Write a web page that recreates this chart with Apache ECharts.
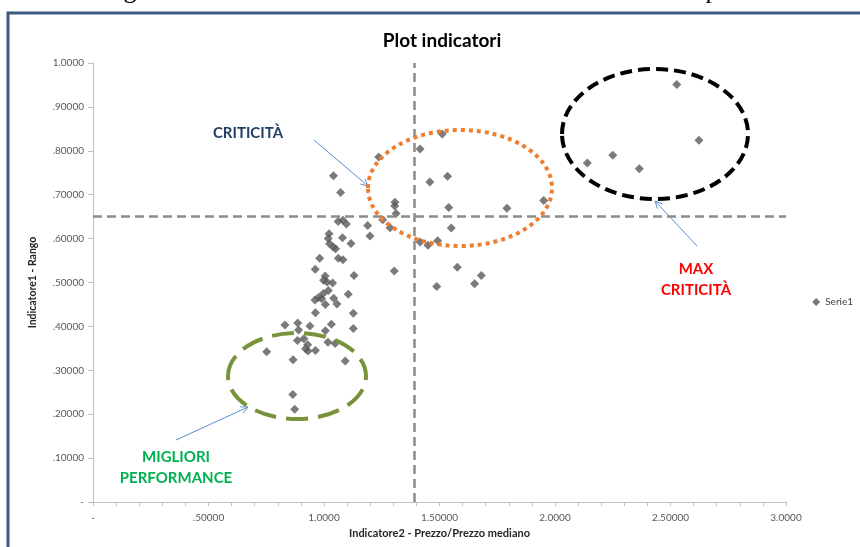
<!DOCTYPE html>
<html>
<head>
<meta charset="utf-8">
<script src="https://cdn.jsdelivr.net/npm/echarts@6/dist/echarts.min.js"></script>
<style>
  html, body { margin: 0; padding: 0; background: #fff; }
  #chart { width: 860px; height: 547px; }
</style>
</head>
<body>
<div id="chart"></div>
<script>
// dati (Indicatore2 sull'asse x, Indicatore1 sull'asse y)
var seriesName = 'Serie1';
var indicatore2 = [
  2.527, 2.623, 2.250, 2.140, 2.365, 1.951, 1.792, 1.540, 1.535, 1.512,
  1.416, 1.458, 1.237, 1.307, 1.306, 1.312, 1.254, 1.286, 1.189, 1.199,
  1.551, 1.416, 1.450, 1.492, 1.304, 1.577, 1.681, 1.652, 1.488, 1.041,
  1.072, 1.061, 1.082, 1.097, 1.022, 1.018, 1.024, 1.040, 1.050, 1.080,
  1.117, 0.981, 1.062, 1.082, 0.962, 1.130, 1.005, 0.998, 1.013, 1.037,
  1.019, 0.997, 0.976, 0.961, 0.990, 1.042, 1.056, 1.006, 1.105, 0.963,
  1.127, 0.831, 0.886, 0.890, 0.939, 1.032, 1.006, 1.127, 0.885, 0.913,
  0.929, 0.920, 0.931, 0.963, 1.017, 1.048, 0.752, 0.866, 1.092, 0.865,
  0.873
];
var indicatore1 = [
  0.951, 0.824, 0.790, 0.772, 0.759, 0.687, 0.669, 0.671, 0.742, 0.838,
  0.804, 0.729, 0.786, 0.683, 0.674, 0.657, 0.643, 0.625, 0.630, 0.606,
  0.624, 0.592, 0.585, 0.595, 0.526, 0.535, 0.516, 0.497, 0.491, 0.743,
  0.705, 0.639, 0.642, 0.633, 0.611, 0.600, 0.588, 0.581, 0.577, 0.602,
  0.589, 0.555, 0.555, 0.552, 0.530, 0.516, 0.515, 0.505, 0.501, 0.499,
  0.482, 0.475, 0.466, 0.460, 0.463, 0.464, 0.451, 0.450, 0.473, 0.431,
  0.430, 0.403, 0.408, 0.392, 0.401, 0.405, 0.390, 0.395, 0.368, 0.372,
  0.358, 0.349, 0.344, 0.345, 0.364, 0.361, 0.342, 0.324, 0.321, 0.245,
  0.211
];
// linee mediane tratteggiate
var medianaX = 1.385;
var medianaY = 0.651;
// etichette assi
var xTickLabels = ['-', '.50000', '1.0000', '1.50000', '2.0000', '2.50000', '3.0000'];
var yTickLabels = ['-', '.10000', '.20000', '.30000', '.40000', '.50000', '.60000', '.70000', '.80000', '.90000', '1.0000'];

var points = indicatore2.map(function (v, i) { return [v, indicatore1[i]]; });

var font = 'Lato, "Open Sans", sans-serif';
var axisGray = '#bfbfbf';

function arrow(x1, y1, x2, y2) {
  var a = Math.atan2(y2 - y1, x2 - x1), h = 8, w = 0.45;
  return {
    type: 'group',
    children: [
      { type: 'line', shape: { x1: x1, y1: y1, x2: x2, y2: y2 }, style: { stroke: '#5b8fd0', lineWidth: 1 } },
      { type: 'polyline', shape: { points: [
          [x2 - h * Math.cos(a - w), y2 - h * Math.sin(a - w)], [x2, y2],
          [x2 - h * Math.cos(a + w), y2 - h * Math.sin(a + w)]] },
        style: { stroke: '#5b8fd0', lineWidth: 1, fill: null } }
    ]
  };
}

function label(text, x, y, color) {
  return { type: 'text', x: x, y: y, style: { text: text, fill: color, font: 'bold 15px ' + font, align: 'center', verticalAlign: 'middle', lineHeight: 21 } };
}

var myChart = echarts.init(document.getElementById('chart'));
var option = {
  animation: false,
  title: {
    text: 'Plot indicatori',
    left: 437, top: 26, textAlign: 'center',
    textStyle: { fontFamily: font, fontSize: 19, fontWeight: 'bold', color: '#000' }
  },
  legend: {
    data: [seriesName],
    right: 2, top: 292,
    icon: 'diamond', itemWidth: 8, itemHeight: 8, itemGap: 4,
    textStyle: { fontFamily: font, fontSize: 10, color: '#404040' }
  },
  grid: { left: 93, right: 74, top: 63, bottom: 45, containLabel: false },
  xAxis: {
    type: 'value', min: 0, max: 3, interval: 0.5,
    name: 'Indicatore2 - Prezzo/Prezzo mediano',
    nameLocation: 'middle', nameGap: 24,
    nameTextStyle: { fontFamily: font, fontSize: 11, fontWeight: 'bold', color: '#262626' },
    axisLine: { show: true, lineStyle: { color: axisGray, width: 1 } },
    axisTick: { show: true, length: 4, lineStyle: { color: axisGray } },
    minorTick: { show: true, splitNumber: 5, length: 4, lineStyle: { color: axisGray } },
    splitLine: { show: false },
    axisLabel: {
      margin: 11, fontFamily: font, fontSize: 10, color: '#595959',
      formatter: function (v) { return xTickLabels[Math.round(v / 0.5)]; }
    }
  },
  yAxis: {
    type: 'value', min: 0, max: 1, interval: 0.1,
    name: 'Indicatore1 - Rango',
    nameLocation: 'middle', nameGap: 55,
    nameTextStyle: { fontFamily: font, fontSize: 10.5, fontWeight: 'bold', color: '#262626' },
    axisLine: { show: true, lineStyle: { color: axisGray, width: 1 } },
    axisTick: { show: true, length: 5, lineStyle: { color: axisGray } },
    splitLine: { show: false },
    axisLabel: {
      margin: 9, fontFamily: font, fontSize: 10, color: '#595959',
      formatter: function (v) { return yTickLabels[Math.round(v / 0.1)]; }
    }
  },
  series: [{
    name: seriesName,
    type: 'scatter',
    symbol: 'diamond',
    symbolSize: 9,
    itemStyle: { color: '#595959' },
    data: points,
    markLine: {
      silent: true,
      symbol: ['none', 'none'],
      label: { show: false },
      lineStyle: { color: '#8c8c8c', width: 2.5, type: [9, 5] },
      data: [{ xAxis: medianaX }, { yAxis: medianaY }]
    },
    z: 3
  }],
  graphic: [
    // cornice del documento
    { type: 'rect', shape: { x: 8, y: 13, width: 900, height: 600 }, style: { fill: null, stroke: '#3d5a7e', lineWidth: 3 }, silent: true },
    // testo tagliato sopra la cornice
    { type: 'text', x: 130, y: 4, style: { text: 'g', font: '26px "Liberation Serif", serif', fill: '#000', align: 'center', verticalAlign: 'bottom' } },
    { type: 'text', x: 712, y: 4, style: { text: 'p', font: '26px "Liberation Serif", serif', fill: '#000', align: 'center', verticalAlign: 'bottom' } },
    // ellissi di evidenziazione
    { type: 'ellipse', shape: { cx: 460, cy: 188, rx: 92, ry: 58 }, style: { fill: null, stroke: '#ed7d31', lineWidth: 4, lineDash: [4, 4] }, z: 10 },
    { type: 'ellipse', shape: { cx: 655, cy: 134, rx: 93, ry: 65 }, style: { fill: null, stroke: '#000', lineWidth: 4, lineDash: [12, 6] }, z: 10 },
    { type: 'ellipse', shape: { cx: 297, cy: 376, rx: 69, ry: 43 }, style: { fill: null, stroke: '#77933c', lineWidth: 4, lineDash: [22, 10] }, z: 10 },
    // frecce
    arrow(314, 140, 368, 186),
    arrow(697, 246, 655, 201),
    arrow(176, 440, 248, 407),
    // etichette
    label('CRITICITÀ', 248, 133, '#1f3f66'),
    label('MAX\nCRITICITÀ', 696, 280, '#ff0000'),
    label('MIGLIORI\nPERFORMANCE', 176, 468, '#00b050')
  ]
};

myChart.setOption(option);
</script>
</body>
</html>
